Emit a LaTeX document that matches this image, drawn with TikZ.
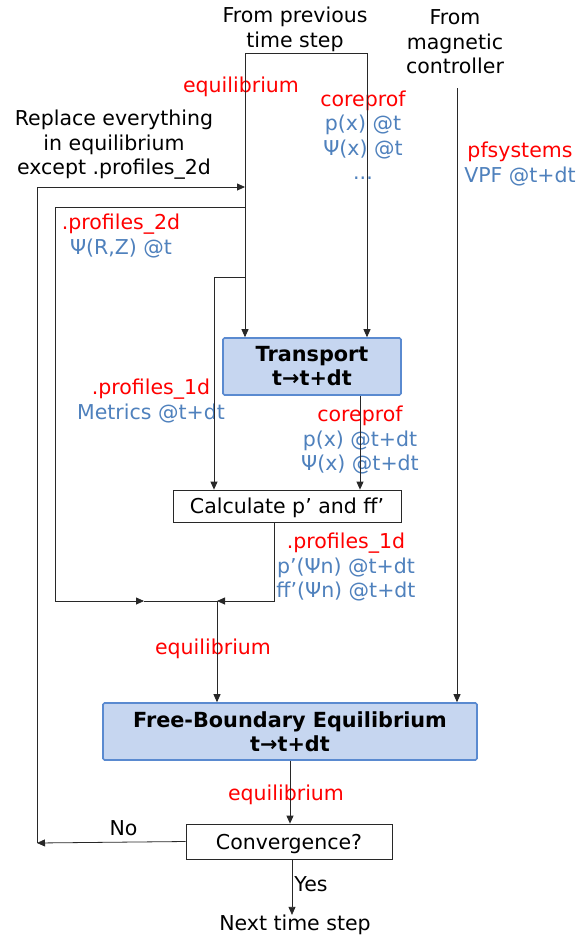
\documentclass[tikz,border=0pt]{standalone}
\usepackage{fontspec}
\setmainfont{DejaVu Sans}
\usetikzlibrary{arrows.meta,calc}
\definecolor{lblue}{RGB}{79,129,189}
\definecolor{boxfill}{RGB}{198,214,240}
\definecolor{boxline}{RGB}{90,138,208}
\definecolor{linec}{RGB}{40,40,40}
\begin{document}
\begin{tikzpicture}[x=1pt,y=-1pt,
  every node/.style={font=\fontsize{20.5}{24.5}\selectfont, inner sep=0pt, align=center},
  conn/.style={draw=linec, line width=0.8pt},
  arr/.style={conn, -{Triangle[length=8pt,width=7pt]}},
  bluebox/.style={draw=boxline, line width=1.6pt, fill=boxfill, rounded corners=1.5pt, font=\bfseries\fontsize{20.8}{24}\selectfont},
  whitebox/.style={draw=linec, line width=0.8pt, fill=white, text depth=0pt},
  redt/.style={text=red},
  bluet/.style={text=lblue}]
\useasboundingbox (0,0) rectangle (580,938);
\fill[white] (0,0) rectangle (580,938);

% text nodes
\node (prev) at (295,29.5) {From previous\\time step};
\node (magn) at (455,42) {From\\magnetic\\controller};
\node (repl) at (114,145) {Replace everything\\in equilibrium\\except .profiles\_2d};

% boxes
\node[bluebox, minimum width=178pt, minimum height=57pt] (T) at (312,366.5) {Transport\\t→t+dt};
\node[whitebox, minimum width=228pt, minimum height=32pt] (C) at (287,506) {Calculate p’ and ff’};
\node[bluebox, minimum width=374pt, minimum height=57pt] (F) at (290,731.5) {Free-Boundary Equilibrium\\t→t+dt};
\node[whitebox, minimum width=206pt, minimum height=35pt] (V) at (289,841.5) {Convergence?};
\node (next) at (295,925) {Next time step};

% labels
\node[redt] (leq1) at (241,87) {equilibrium};
\node (lcp1) at (363,135) {\textcolor{red}{coreprof}\\\textcolor{lblue}{p(x) @t}\\\textcolor{lblue}{Ψ(x) @t}\\\textcolor{lblue}{...}};
\node (lpf) at (520,164) {\textcolor{red}{pfsystems}\\\textcolor{lblue}{VPF @t+dt}};
\node (lp2d) at (121,236) {\textcolor{red}{.profiles\_2d}\\\textcolor{lblue}{Ψ(R,Z) @t}};
\node (lp1d) at (151,401) {\textcolor{red}{.profiles\_1d}\\\textcolor{lblue}{Metrics @t+dt}};
\node (lcp2) at (360,440) {\textcolor{red}{coreprof}\\\textcolor{lblue}{p(x) @t+dt}\\\textcolor{lblue}{Ψ(x) @t+dt}};
\node (lp1d2) at (346,567) {\textcolor{red}{.profiles\_1d}\\\textcolor{lblue}{p’(Ψn) @t+dt}\\\textcolor{lblue}{ff’(Ψn) @t+dt}};
\node[redt] (leq2) at (213,649) {equilibrium};
\node[redt] (leq3) at (286,795) {equilibrium};
\node (lno) at (123.5,828) {No};
\node (lyes) at (311,884) {Yes};

% coordinates
\coordinate (tl) at (245,53);
\coordinate (tr) at (367,53);
\coordinate (mag) at (457,88);
\coordinate (noL) at (37,843);
\coordinate (rep) at (245,187);
\coordinate (b2a) at (245,207);
\coordinate (b2b) at (55,601);
\coordinate (m1) at (144,601);
\coordinate (j) at (217,601);
\coordinate (b3a) at (245,277);
\coordinate (b3x) at (214,0);
\coordinate (tox) at (360,0);
\coordinate (cx) at (274,0);
\coordinate (yx) at (292,0);

% connectors
\draw[conn] (tl) -- (tr);
\draw[arr] (tl) -- (tl |- T.north);
\draw[arr] (tr) -- (tr |- T.north);
\draw[arr] (mag) -- (mag |- F.north);
\draw[arr] (V.west) -- (noL);
\draw[arr] (noL) |- (rep);
\draw[arr] (b2a) -| (b2b) -- (m1);
\draw[conn] (m1) -- (j);
\draw[arr] (b3a) -| (b3x |- C.north);
\draw[arr] (T.south -| tox) -- (C.north -| tox);
\draw[arr] (C.south -| cx) |- (j);
\draw[arr] (j) -- (j |- F.north);
\draw[arr] (F.south) -- (F.south |- V.north);
\draw[arr] (V.south -| yx) -- (yx |- next.north);
\end{tikzpicture}
\end{document}
